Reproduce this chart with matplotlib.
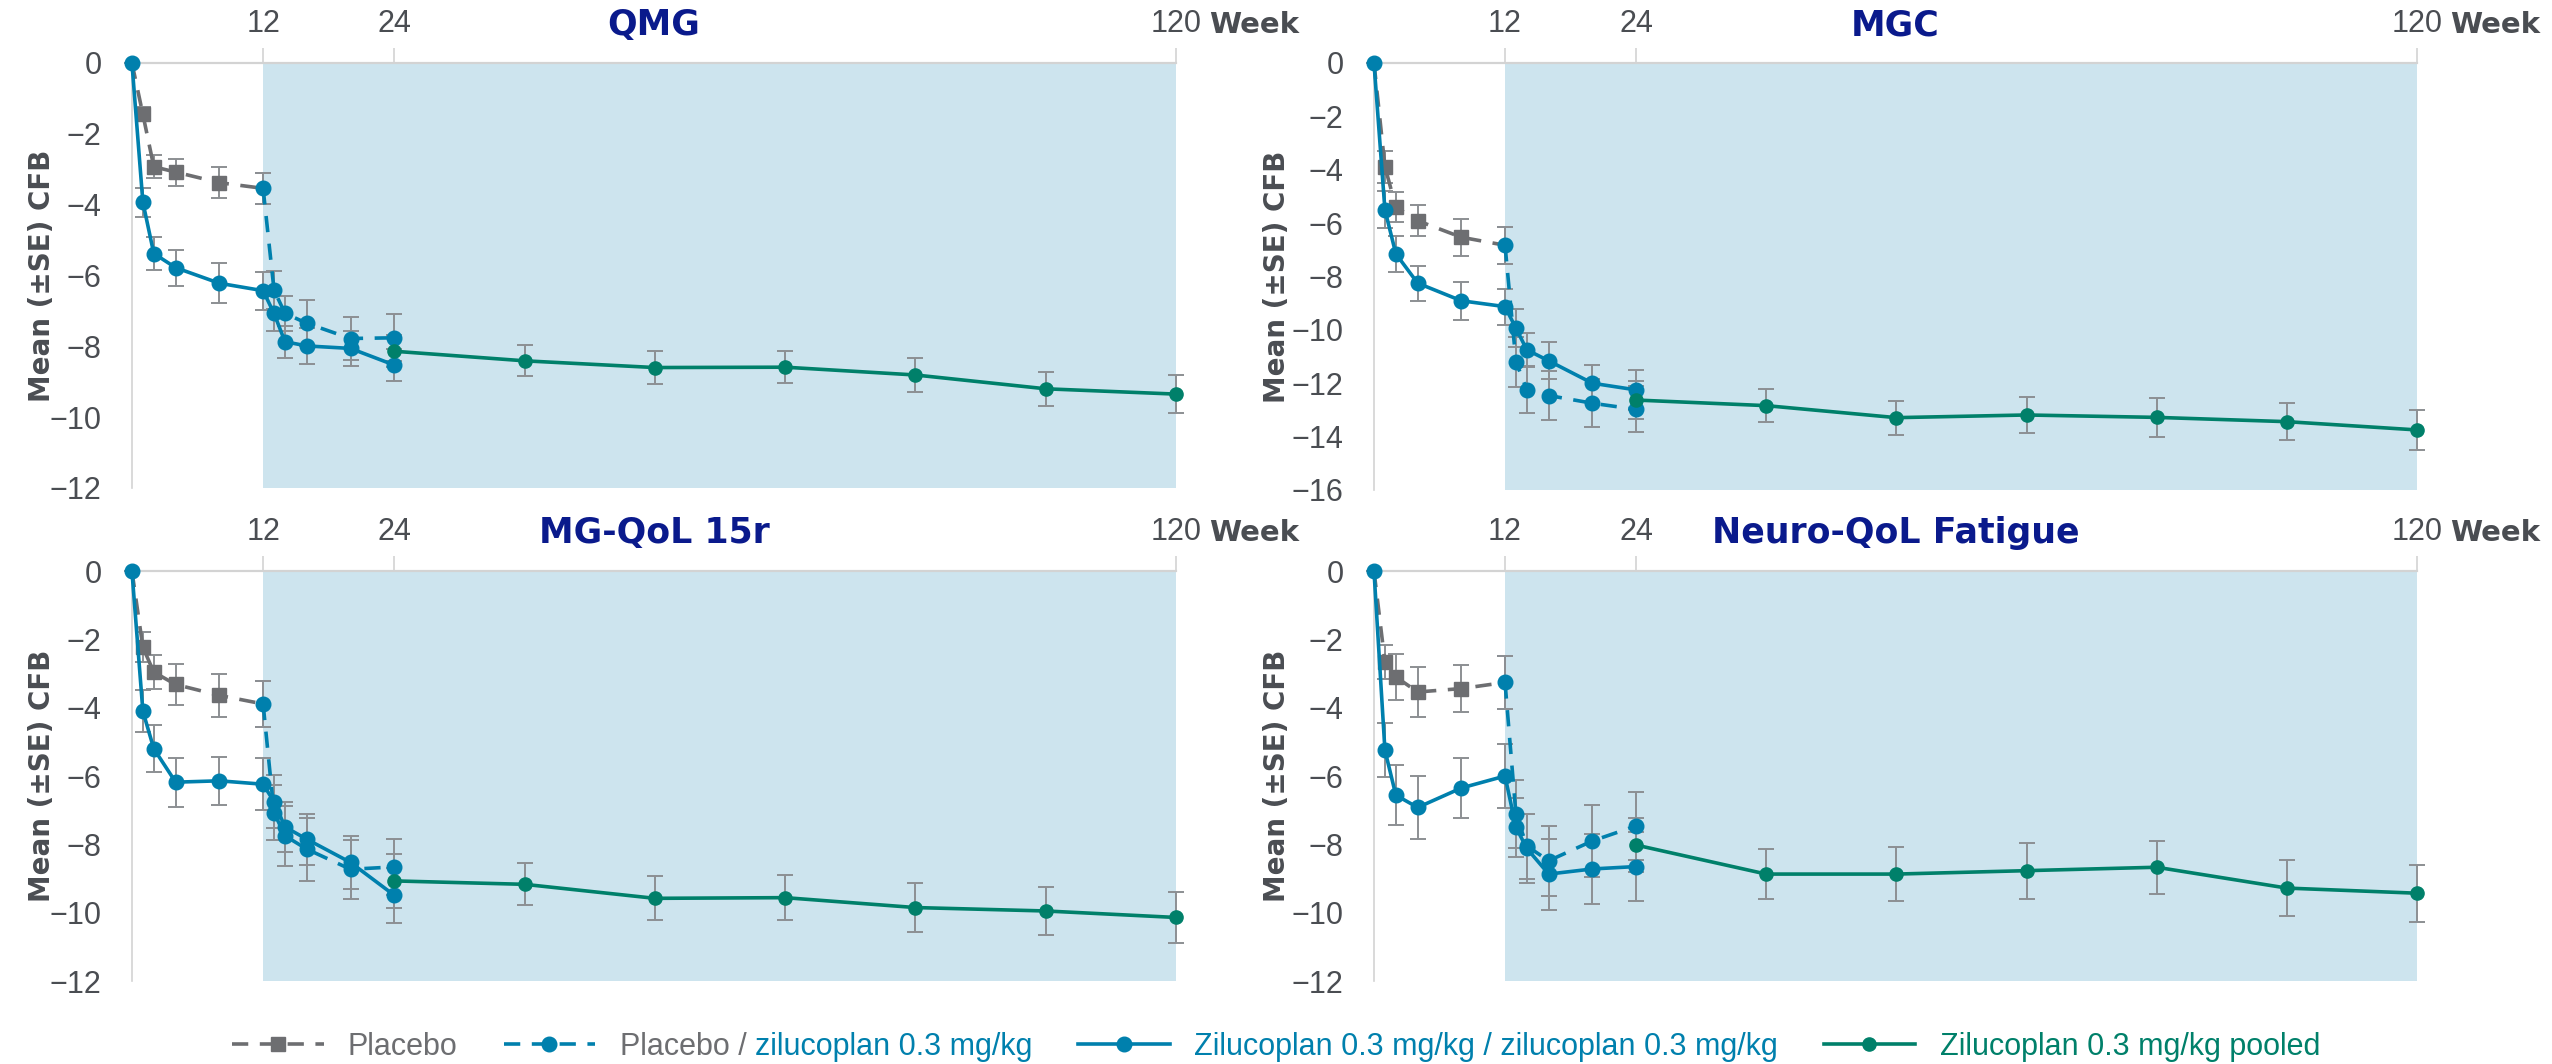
import numpy as np
import matplotlib
matplotlib.use("Agg")
import matplotlib.pyplot as plt
from matplotlib.offsetbox import HPacker, TextArea

# narrow-ish font for ticks and legend, DejaVu bold for titles
LIGHT = "Liberation Sans"
BOLD = "DejaVu Sans"
plt.rcParams["font.family"] = [LIGHT, "DejaVu Sans"]

GREY = "#6d6e71"
BLUE = "#0080ad"
GREEN = "#00806a"
ERR = "#8c8f93"
SHADE = "#cde4ee"
SPINE = "#d3d3d3"
TXT = "#4a4d52"
NAVY = "#0a1a8c"

# weeks
weeks_pbo = [0, 1, 2, 4, 8, 12]
weeks_pz = [12, 13, 14, 16, 20, 24]
weeks_zz = [0, 1, 2, 4, 8, 12, 13, 14, 16, 20, 24]
weeks_pool = [24, 40, 56, 72, 88, 104, 120]
week_ticks = [12, 24, 120]

# QMG
qmg_pbo = [0, -1.45, -2.93, -3.08, -3.38, -3.54]
qmg_pbo_se = [0, 0.2, 0.33, 0.38, 0.44, 0.43]
qmg_pz = [-3.54, -6.41, -7.07, -7.35, -7.78, -7.76]
qmg_pz_se = [0.43, 0.55, 0.5, 0.65, 0.6, 0.66]
qmg_zz = [0, -3.93, -5.38, -5.78, -6.22, -6.43, -7.07, -7.87, -7.99, -8.06, -8.53]
qmg_zz_se = [0, 0.41, 0.47, 0.51, 0.57, 0.54, 0.5, 0.45, 0.5, 0.5, 0.45]
qmg_pool = [-8.14, -8.41, -8.6, -8.59, -8.81, -9.2, -9.35]
qmg_pool_se = [0.45, 0.44, 0.46, 0.46, 0.48, 0.48, 0.54]

# MGC
mgc_pbo = [0, -3.88, -5.4, -5.91, -6.53, -6.83]
mgc_pbo_se = [0, 0.6, 0.56, 0.57, 0.69, 0.69]
mgc_pz = [-6.83, -11.19, -12.25, -12.46, -12.75, -12.98]
mgc_pz_se = [0.69, 0.94, 0.87, 0.9, 0.9, 0.86]
mgc_zz = [0, -5.5, -7.15, -8.25, -8.91, -9.13, -9.94, -10.75, -11.16, -12.0, -12.25]
mgc_zz_se = [0, 0.69, 0.68, 0.66, 0.72, 0.67, 0.72, 0.62, 0.7, 0.7, 0.74]
mgc_pool = [-12.63, -12.84, -13.29, -13.19, -13.28, -13.44, -13.75]
mgc_pool_se = [0.7, 0.62, 0.64, 0.69, 0.73, 0.69, 0.74]

# MG-QoL 15r
qol_pbo = [0, -2.23, -2.96, -3.32, -3.64, -3.89]
qol_pbo_se = [0, 0.44, 0.49, 0.59, 0.63, 0.68]
qol_pz = [-3.89, -7.07, -7.75, -8.14, -8.73, -8.66]
qol_pz_se = [0.68, 0.8, 0.88, 0.92, 0.86, 0.83]
qol_zz = [0, -4.1, -5.2, -6.18, -6.14, -6.24, -6.75, -7.49, -7.85, -8.53, -9.49]
qol_zz_se = [0, 0.61, 0.68, 0.72, 0.71, 0.76, 0.78, 0.74, 0.74, 0.78, 0.8]
qol_pool = [-9.07, -9.17, -9.58, -9.56, -9.85, -9.95, -10.14]
qol_pool_se = [0.8, 0.61, 0.64, 0.66, 0.73, 0.69, 0.75]

# Neuro-QoL Fatigue
nqf_pbo = [0, -2.66, -3.1, -3.54, -3.44, -3.26]
nqf_pbo_se = [0, 0.5, 0.66, 0.73, 0.68, 0.77]
nqf_pz = [-3.26, -7.12, -8.05, -8.48, -7.9, -7.46]
nqf_pz_se = [0.77, 1.0, 0.95, 1.03, 1.05, 1.0]
nqf_zz = [0, -5.24, -6.56, -6.92, -6.35, -6.0, -7.5, -8.12, -8.87, -8.72, -8.65]
nqf_zz_se = [0, 0.8, 0.88, 0.91, 0.88, 0.93, 0.86, 1.0, 1.04, 1.02, 1.0]
nqf_pool = [-8.02, -8.87, -8.87, -8.77, -8.67, -9.28, -9.43]
nqf_pool_se = [0.8, 0.74, 0.8, 0.82, 0.78, 0.82, 0.84]

# the week axis is squeezed after week 24
K = 0.745


def fwd(w):
    w = np.asarray(w, dtype=float)
    return np.where(w <= 24, w, 24 + (w - 24) * K)


def inv(p):
    p = np.asarray(p, dtype=float)
    return np.where(p <= 24, p, 24 + (p - 24) / K)


def panel(ax, title, pbo, pbo_se, pz, pz_se, zz, zz_se, pool, pool_se, ymin, ylab_x):
    ax.set_xscale("function", functions=(fwd, inv))
    ax.axvspan(12, 120, color=SHADE, lw=0, zorder=0)

    err = dict(fmt="none", ecolor=ERR, elinewidth=1.4, capsize=6, capthick=1.4, zorder=2, clip_on=False)
    ax.errorbar(weeks_pbo, pbo, yerr=pbo_se, **err)
    ax.errorbar(weeks_pz, pz, yerr=pz_se, **err)
    ax.errorbar(weeks_zz, zz, yerr=zz_se, **err)
    ax.errorbar(weeks_pool, pool, yerr=pool_se, **err)

    dash = (0, (4.5, 3.2))
    # end points of the placebo line sit under blue circles, so no squares there
    ax.plot(weeks_pbo, pbo, color=GREY, ls=dash, lw=2.6, marker="s", ms=9.5,
            markevery=slice(1, -1), zorder=3, clip_on=False, label="Placebo")
    ax.plot(weeks_pz, pz, color=BLUE, ls=dash, lw=2.6, marker="o", ms=10.5,
            zorder=3, clip_on=False, label="Placebo / zilucoplan 0.3 mg/kg")
    ax.plot(weeks_zz, zz, color=BLUE, lw=2.6, marker="o", ms=10.5,
            zorder=4, clip_on=False, label="Zilucoplan 0.3 mg/kg / zilucoplan 0.3 mg/kg")
    ax.plot(weeks_pool, pool, color=GREEN, lw=2.6, marker="o", ms=9.5,
            zorder=4, clip_on=False, label="Zilucoplan 0.3 mg/kg pooled")

    ax.set_xlim(0, 120)
    ax.set_ylim(ymin, 0)
    ax.set_yticks(np.arange(0, ymin - 1, -2))
    ax.xaxis.tick_top()
    ax.set_xticks(week_ticks)
    ax.tick_params(axis="x", top=True, length=11, width=1.2, color=SPINE, pad=6,
                   labelsize=22, labelcolor=TXT)
    ax.tick_params(axis="y", length=0, pad=22, labelsize=22, labelcolor=TXT)

    for s in ["bottom", "right"]:
        ax.spines[s].set_visible(False)
    ax.spines["top"].set_color(SPINE)
    ax.spines["top"].set_linewidth(1.6)
    ax.spines["left"].set_color(SPINE)
    ax.spines["left"].set_linewidth(1.2)

    # title sits on the same line as the week ticks
    ax.annotate(title, xy=(0.5, 1), xycoords="axes fraction", xytext=(0, 20),
                textcoords="offset points", ha="center", va="baseline", fontsize=25,
                fontweight="bold", color=NAVY, family=BOLD, annotation_clip=False)
    ax.annotate("Week", xy=(1, 1), xycoords="axes fraction", xytext=(24, 21.5),
                textcoords="offset points", ha="left", va="baseline", fontsize=21,
                fontweight="bold", color=TXT, family=BOLD, annotation_clip=False)
    ax.set_ylabel("Mean (\u00b1SE) CFB", fontsize=20, fontweight="bold", color=TXT, family=BOLD)
    ax.yaxis.set_label_coords(ylab_x, 0.5)


fig = plt.figure(figsize=(25.52, 10.64), dpi=100)
ax1 = fig.add_axes([0.0517, 0.5414, 0.4091, 0.3994])
ax2 = fig.add_axes([0.5384, 0.5395, 0.4087, 0.4013])
ax3 = fig.add_axes([0.0517, 0.0780, 0.4091, 0.3853])
ax4 = fig.add_axes([0.5384, 0.0780, 0.4087, 0.3853])

panel(ax1, "QMG", qmg_pbo, qmg_pbo_se, qmg_pz, qmg_pz_se, qmg_zz, qmg_zz_se, qmg_pool, qmg_pool_se, -12, -0.073)
panel(ax2, "MGC", mgc_pbo, mgc_pbo_se, mgc_pz, mgc_pz_se, mgc_zz, mgc_zz_se, mgc_pool, mgc_pool_se, -16, -0.080)
panel(ax3, "MG-QoL 15r", qol_pbo, qol_pbo_se, qol_pz, qol_pz_se, qol_zz, qol_zz_se, qol_pool, qol_pool_se, -12, -0.073)
panel(ax4, "Neuro-QoL Fatigue", nqf_pbo, nqf_pbo_se, nqf_pz, nqf_pz_se, nqf_zz, nqf_zz_se, nqf_pool, nqf_pool_se, -12, -0.080)

handles, labels = ax1.get_legend_handles_labels()
leg = fig.legend(handles, labels, loc="center", bbox_to_anchor=(0.5, 0.016), ncol=4,
                 frameon=False, fontsize=22, handlelength=3.0, handletextpad=0.8,
                 columnspacing=1.5, labelcolor=[GREY, GREY, BLUE, GREEN])

# second legend label is two-coloured: swap its text box for a grey + blue pair
entry = leg._legend_handle_box.get_children()[1].get_children()[0]
kids = entry.get_children()
two_tone = HPacker(pad=0, sep=6, align="baseline", children=[
    TextArea("Placebo /", textprops=dict(color=GREY, fontsize=22, va="baseline")),
    TextArea("zilucoplan 0.3 mg/kg", textprops=dict(color=BLUE, fontsize=22, va="baseline")),
])
two_tone.set_figure(fig)
kids[1] = two_tone

fig.savefig("out.png", dpi=100)
